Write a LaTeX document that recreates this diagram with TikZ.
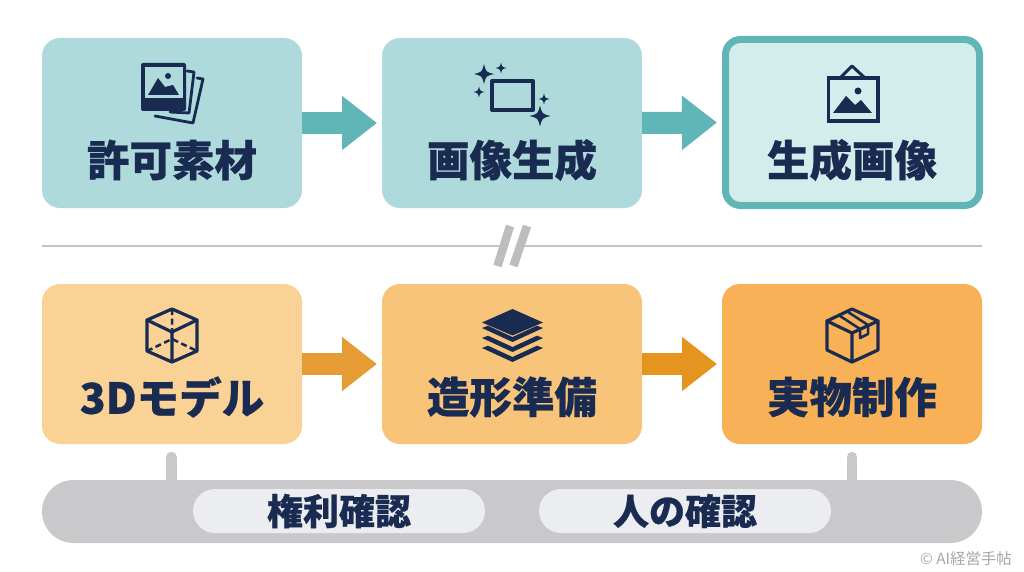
\documentclass[tikz,border=0pt]{standalone}
\usepackage{fontspec}
\setmainfont{Noto Sans CJK JP}[BoldFont={Noto Sans CJK JP Black},BoldFeatures={FakeBold=0.6}]
\usetikzlibrary{arrows.meta}
\definecolor{navy}{HTML}{1A2B52}
\definecolor{tealA}{HTML}{AEDADB}
\definecolor{tealB}{HTML}{D3ECEC}
\definecolor{tealS}{HTML}{60B5B7}
\definecolor{orgA}{HTML}{FAD296}
\definecolor{orgB}{HTML}{F7C47A}
\definecolor{orgC}{HTML}{F8B156}
\definecolor{orgS}{HTML}{E69C35}
\definecolor{orgT}{HTML}{E5941F}
\definecolor{barc}{HTML}{C9C9CC}
\definecolor{pillc}{HTML}{ECEDF0}
\definecolor{linec}{HTML}{C4C4C4}
\definecolor{slashc}{HTML}{BDBDBD}
\definecolor{crc}{HTML}{A6A6A6}
\newcommand{\sparkstar}[3]{\fill[navy] (#1,#2-#3) .. controls (#1+.2*#3,#2-.2*#3) .. (#1+#3,#2) .. controls (#1+.2*#3,#2+.2*#3) .. (#1,#2+#3) .. controls (#1-.2*#3,#2+.2*#3) .. (#1-#3,#2) .. controls (#1-.2*#3,#2-.2*#3) .. cycle;}
\tikzset{
  boxn/.style={minimum width=260pt,inner sep=0pt,outer sep=0pt,rounded corners=18pt},
  toprow/.style={boxn,minimum height=170pt},
  botrow/.style={boxn,minimum height=160pt},
  flowt/.style={line width=22pt,-{Triangle[length=35pt,width=52pt]},shorten >=5pt},
  lab/.style={text=navy,font=\fontsize{42.5}{43}\bfseries\selectfont,inner sep=0pt},
  lab2/.style={text=navy,font=\fontsize{36}{36}\bfseries\selectfont,inner sep=0pt},
  ico/.style={draw=navy,line join=round,line cap=round},
  stub/.style={line width=10.5pt,barc,line cap=round},
  pill/.style={fill=pillc,rounded corners=22pt,minimum width=292pt,minimum height=44pt,inner sep=0pt}
}
\begin{document}
\begin{tikzpicture}[x=1pt,y=-1pt]
\useasboundingbox (0,0) rectangle (1024,572);
% stubs and bar
\coordinate (s1) at (171.5,457);
\coordinate (s2) at (852,457);
\node[fill=barc,rounded corners=31.5pt,minimum width=940pt,minimum height=63pt,inner sep=0pt] (bar) at (512,511.5) {};
\draw[stub] (s1) -- (s1 |- bar.north);
\draw[stub] (s2) -- (s2 |- bar.north);
% boxes
\node[toprow,fill=tealA] (a1) at (172,123) {};
\node[toprow,fill=tealA] (a2) at (512,123) {};
\node[boxn,minimum width=254pt,minimum height=166pt,fill=tealB,draw=tealS,line width=7pt,rounded corners=15pt] (a3) at (852.5,122.5) {};
\node[botrow,fill=orgA] (b1) at (172,364) {};
\node[botrow,fill=orgB] (b2) at (512,364) {};
\node[botrow,fill=orgC] (b3) at (852,364) {};
% arrows
\draw[flowt,tealS] (a1.east) -- (a2.west);
\draw[flowt,tealS] (a2.east) -- ([xshift=-3.5pt]a3.west);
\draw[flowt,orgS] (b1.east) -- (b2.west);
\draw[flowt,orgT] (b2.east) -- (b3.west);
% labels
\node[lab] (t1) at (172,160) {許可素材};
\node[lab] (t2) at (512,160) {画像生成};
\node[lab] (t3) at (852,160) {生成画像};
\node[lab] (t4) at (172,397) {3Dモデル};
\node[lab] (t5) at (512,397) {造形準備};
\node[lab] (t6) at (852,397) {実物制作};
% divider
\draw[linec,line width=2.5pt] (42,246) -- (504,246) (520,246) -- (982,246);
\draw[slashc,line width=8.5pt] (510,226) -- (497.5,266) (527,226) -- (513.5,266);
% pills
\node[pill] (p1) at (339,511) {};
\node[pill] (p2) at (685,511) {};
\node[lab2] (t7) at (339,511) {権利確認};
\node[lab2] (t8) at (685,511) {人の確認};
\node[text=crc,font=\fontsize{15.4}{16}\selectfont,inner sep=0pt,anchor=east] (cr) at (1012,559) {© AI経営手帖};
% icon 1: photos
\draw[ico,line width=2.8pt] (187,71) -- (194,72) -- (189,113) -- (170,112);
\draw[ico,line width=2.8pt] (197,78) -- (203,79) -- (193,123) -- (155,116);
\fill[navy,rounded corners=2pt] (141,63) rectangle (186,111);
\fill[tealA] (145,67) rectangle (183,98);
\fill[navy] (148,95) -- (158,78) -- (165,87) -- (173,85) -- (179,95) -- cycle;
\fill[navy] (168,76) circle (3pt);
% icon 2: sparkles frame
\draw[ico,line width=4pt] (492,81) rectangle (533,110);
\sparkstar{484}{74}{10}
\sparkstar{501}{68}{5.5}
\sparkstar{479}{92}{5.5}
\sparkstar{544}{99}{5.5}
\sparkstar{540}{116}{10.5}
% icon 3: hung picture
\draw[navy,line width=3.8pt,line join=miter] (828.5,78) rectangle (878,121);
\draw[ico,line width=3pt] (840,78) -- (852,66) -- (865,78);
\fill[navy] (833,113) -- (846,96) -- (855,105) -- (861,100) -- (872,113) -- cycle;
\fill[navy] (858,91) circle (3.5pt);
% icon 4: cube
\draw[ico,line width=3.2pt] (172,309) -- (197,320) -- (197,351) -- (172,362) -- (147,351) -- (147,320) -- cycle;
\draw[ico,line width=3.2pt] (147,320) -- (172,332) -- (197,320) (172,332) -- (172,362);
\draw[navy,line width=2.5pt,dash pattern=on 6pt off 3.5pt] (172,309) -- (172,339) (147,351) -- (172,339) -- (197,351);
% icon 5: layers
\fill[navy] (482,322.5) -- (512.5,309) -- (543,322.5) -- (512.5,335.5) -- cycle;
\foreach \t in {342,352,362}{
  \fill[navy] (482,\t-14) -- (488,\t-16.3) -- (512.5,\t-5) -- (537,\t-16.3) -- (543,\t-14) -- (512.5,\t) -- cycle;
}
% icon 6: parcel
\draw[ico,line width=3.2pt] (852,309) -- (878,321) -- (878,350) -- (852,362) -- (827,350) -- (827,321) -- cycle;
\draw[ico,line width=3.2pt] (827,321) -- (852,333) -- (878,321) (852,333) -- (852,362);
\draw[ico,line width=2.5pt] (840,316) -- (860,329) -- (860,338) -- (868,334) -- (868,325) -- (848,312);
\end{tikzpicture}
\end{document}
